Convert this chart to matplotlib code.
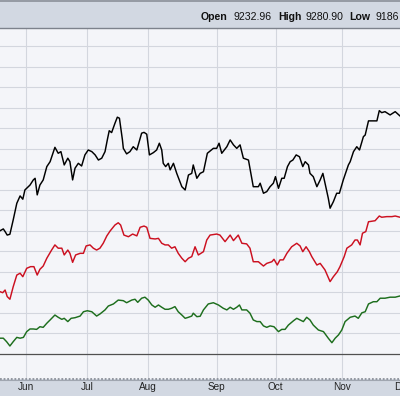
import matplotlib
matplotlib.use("Agg")
from matplotlib import pyplot as plt
from matplotlib import transforms

# trading-day index and performance values
black_day = [0, 1.1, 1.7, 2.4, 3.3, 4.4, 5.6, 6.7, 7.6, 8.3, 10, 11.1, 11.7, 12.4, 13.3, 14.4, 15.6, 16.7,
             18.3, 19.4, 20.3, 21.4, 22.6, 23.3, 24.2, 25, 26.1, 27.2, 28.3, 29.4, 30.6, 31.7, 32.8, 33.9,
             35, 35.8, 36.4, 37.2, 38.3, 39.1, 39.8, 40.2, 40.8, 41.1, 42.2, 43.3, 44.4, 45.6, 46.4, 47.2,
             48, 48.9, 49.8, 51.1, 52.2, 53.1, 53.9, 54.4, 55.2, 56.1, 56.7, 57.8, 58.9, 60.6, 61.7, 62.8,
             63.9, 64.4, 65.6, 66.7, 67.8, 69.1, 71.1, 72.2, 73, 73.9, 75.6, 76.7, 77.8, 78.9, 80, 81.1,
             82.8, 84.4, 86.1, 86.7, 87.8, 88.9, 90, 91.1, 91.8, 92.8, 93.9, 94.7, 95.8, 96.7, 97.6, 98.7,
             99.8, 100.9, 101.7, 102.8, 103.3, 104.4, 105.6, 106.7, 107.6, 108.3, 109.4, 110, 111.1, 112.2,
             113.1, 114.4, 116.1, 116.7, 117.8, 118.9, 119.8, 121.1, 121.7, 122.8, 125.6, 126.4, 127.2,
             128.3, 130, 131.7, 133.3]
black_val = [60.1, 61.0, 59.7, 58.0, 58.4, 65.4, 73.5, 77.1, 75.5, 80.0, 82.4, 84.9, 85.7, 77.6, 82.4, 84.9,
             91.4, 93.8, 100.8, 97.9, 98.7, 92.2, 95.5, 93.8, 84.9, 90.6, 93.0, 91.7, 97.1, 99.5, 98.7, 97.1,
             94.6, 95.5, 98.7, 104.7, 108.9, 108.0, 112.5, 115.5, 115.0, 110.9, 104.4, 100.3, 97.6, 98.7,
             101.1, 99.5, 103.6, 107.7, 108.1, 107.2, 97.1, 98.2, 99.5, 102.8, 99.5, 93.0, 91.4, 93.0, 89.8,
             93.0, 88.1, 81.6, 80.0, 87.3, 88.1, 92.2, 85.7, 88.1, 88.9, 97.9, 100.3, 100.3, 102.8, 97.9,
             101.1, 104.4, 102.0, 100.3, 102.0, 95.5, 94.6, 81.6, 81.6, 83.3, 78.4, 79.2, 81.6, 83.3, 86.5,
             80.8, 85.7, 85.7, 91.4, 93.8, 94.6, 97.1, 96.2, 91.4, 93.8, 92.2, 88.1, 86.5, 81.6, 84.9, 88.1,
             83.3, 76.0, 71.1, 74.3, 78.4, 78.4, 84.9, 92.2, 93.8, 98.7, 101.1, 99.5, 106.0, 106.8, 113.7,
             113.7, 118.7, 117.7, 118.2, 116.6, 118.2, 116.1]

red_day = [0, 0.9, 1.7, 2.4, 3.3, 4.4, 5.6, 6.7, 7.6, 8.9, 10.2, 11.3, 12.4, 13.3, 14.4, 15.6, 17.2, 18.3,
           19.4, 20.6, 21.4, 22.6, 23.3, 24.2, 25.2, 26.7, 27.8, 28.7, 30, 31.1, 32.2, 33.3, 34.4, 35.6,
           36.7, 38.3, 39.4, 40.2, 41.3, 42.8, 44.2, 45.6, 46.7, 48, 48.9, 50, 51.7, 52.8, 53.9, 55, 56.1,
           57.2, 58.3, 59.4, 60.6, 61.7, 62.8, 63.9, 65, 66.1, 67.8, 68.9, 70, 72.2, 73.3, 75, 76.7, 77.8,
           79.4, 80.6, 82.2, 83.3, 84.4, 86.1, 87.8, 88.9, 90.6, 91.3, 92.4, 93.3, 94.4, 95.6, 97.2, 98.9,
           100, 100.9, 102, 103.1, 103.9, 105.6, 106.7, 108.3, 110, 111.1, 112.4, 113.3, 114.7, 115.6,
           117.2, 118.3, 119.1, 120, 120.8, 121.9, 122.8, 125, 126.4, 127.2, 128.9, 130.6, 131.7, 133.3]
red_val = [30.4, 29.9, 31.2, 28.0, 26.7, 32.8, 38.5, 39.4, 37.7, 41.8, 42.6, 42.6, 38.5, 41.3, 42.9, 46.7,
           50.7, 53.2, 51.6, 51.6, 48.3, 50.7, 49.1, 44.7, 48.3, 49.1, 49.1, 52.7, 53.2, 51.6, 50.7, 51.6,
           54.0, 57.6, 60.0, 62.9, 64.0, 62.9, 58.0, 57.2, 58.5, 57.6, 61.8, 62.4, 61.8, 56.4, 56.1, 56.4,
           54.0, 53.2, 53.2, 51.6, 52.3, 49.1, 46.7, 45.0, 46.7, 47.5, 52.3, 48.3, 49.9, 55.6, 58.0, 58.5,
           58.0, 54.8, 58.0, 55.3, 58.0, 54.0, 53.7, 51.6, 45.0, 45.0, 42.9, 44.2, 45.0, 46.2, 43.4, 45.9,
           45.9, 49.1, 52.3, 54.0, 52.7, 49.9, 52.3, 49.9, 47.5, 43.4, 44.2, 41.0, 35.3, 37.7, 40.1, 42.6,
           47.5, 51.6, 53.2, 55.6, 55.6, 53.2, 58.9, 59.7, 64.5, 65.0, 67.3, 66.7, 67.0, 67.0, 67.3, 66.7]

green_day = [0, 1.1, 2.2, 3.3, 4.4, 5.6, 6.7, 7.8, 8.9, 10, 11.1, 12.2, 13.3, 14.4, 15.6, 16.7, 18.3, 19.4,
             20.6, 21.4, 22.6, 23.7, 25, 26.7, 27.8, 29.1, 30.6, 32.2, 33.3, 35, 36.1, 37.8, 39.4, 41.1,
             42.2, 43.9, 45, 45.9, 47.2, 48.3, 49.4, 50.6, 51.7, 52.8, 53.9, 55, 56.1, 57.2, 58.3, 59.4,
             60.6, 61.7, 62.8, 63.9, 64.4, 65.6, 66.7, 67.8, 69.4, 71.1, 72.8, 74.4, 75.6, 76.7, 77.8, 78.9,
             79.8, 80.6, 82.2, 83.3, 84.4, 85.6, 86.7, 87.8, 88.9, 90, 91.3, 92.8, 93.9, 95, 96.1, 97.8,
             98.9, 100, 101.1, 102.2, 103.3, 104.4, 106.1, 107.8, 109.4, 110.6, 111.7, 112.8, 113.9, 115,
             116.7, 118.3, 119.4, 120.6, 121.7, 122.8, 124.4, 125.6, 126.7, 128.3, 130, 131.7, 133.3]
green_val = [7.7, 7.7, 6.0, 3.9, 6.0, 8.1, 7.7, 8.1, 10.9, 12.2, 12.2, 12.0, 13.3, 13.0, 15.0, 16.6, 19.0,
             17.9, 16.9, 17.4, 15.8, 17.4, 17.7, 18.5, 20.6, 21.1, 20.6, 18.5, 19.5, 21.5, 23.4, 24.4, 26.3,
             26.0, 25.0, 26.3, 26.7, 25.2, 27.2, 27.7, 26.3, 23.9, 22.8, 23.9, 22.8, 21.8, 21.8, 22.3, 23.1,
             20.6, 19.0, 17.4, 17.9, 18.5, 19.9, 18.2, 18.4, 21.5, 24.4, 25.0, 23.9, 22.3, 21.5, 22.8, 21.8,
             22.8, 23.9, 21.5, 21.5, 19.9, 16.6, 15.8, 15.8, 13.7, 13.0, 13.7, 13.3, 10.9, 12.0, 12.0, 14.1,
             16.2, 17.4, 16.6, 15.8, 17.9, 16.6, 14.1, 11.7, 10.9, 7.7, 5.5, 7.7, 9.3, 11.7, 15.8, 17.9,
             18.5, 17.4, 20.1, 20.6, 24.4, 25.5, 25.5, 27.2, 27.2, 27.7, 27.7, 28.3]

month_labels = ["Jun", "Jul", "Aug", "Sep", "Oct", "Nov", "Dec"]
month_days = [8.6, 29.1, 49.2, 72.2, 91.9, 113.9, 134.2]

header = [("Open", True), ("9232.96", False), ("High", True), ("9280.90", False),
          ("Low", True), ("9186", False)]
header_x = [201, 233, 278, 305, 349, 375]

W, H = 400, 396
plt.rcParams["font.family"] = ["Liberation Sans", "DejaVu Sans"]

fig = plt.figure(figsize=(W / 100, H / 100), dpi=100)
fig.patch.set_facecolor("#d2d8e2")

ax = fig.add_axes([0, (H - 379) / H, 1, 351 / H])
ax.set_facecolor("#f4f5f9")
ax.set_xlim(0, 133.3)
ax.set_ylim(-12.2, 159.0)

for d in month_days:
    ax.axvline(d, color="#d3d6de", lw=0.8, zorder=1)
for v in range(10, 160, 10):
    ax.axhline(v, color="#d3d6de", lw=0.8, zorder=1)
ax.axhline(0, color="#505050", lw=0.9, zorder=1)

ax.plot(black_day, black_val, color="#000000", lw=1.05, zorder=3)
ax.plot(red_day, red_val, color="#cc1020", lw=1.05, zorder=3)
ax.plot(green_day, green_val, color="#1d6e1d", lw=1.05, zorder=3)

ax.set_xticks([])
ax.set_yticks([])
for s in ax.spines.values():
    s.set_visible(False)

# header band lines
fig.add_artist(plt.Line2D([0, 1], [1 - 0.5 / H, 1 - 0.5 / H], color="#8a8f98", lw=1.2))
fig.add_artist(plt.Line2D([0, 1], [1 - 28 / H, 1 - 28 / H], color="#7d828c", lw=1.0))

for (txt, bold), x in zip(header, header_x):
    fig.text(x / W, 1 - 17 / H, txt, fontsize=7.6, va="center", ha="left",
             fontweight="bold" if bold else "normal", color="#111111")

# bottom band
fig.add_artist(plt.Line2D([0, 1], [17 / H, 17 / H], color="#8c919a", lw=1.3,
                          linestyle=(0, (1, 1))))
fig.add_artist(plt.Line2D([0, 1], [16 / H, 16 / H], color="#a0a6b0", lw=0.8))
trans = transforms.blended_transform_factory(ax.transData, fig.transFigure)
for lab, d in zip(month_labels, month_days):
    fig.text(d, 8.5 / H, lab, transform=trans, fontsize=7.2, ha="center", va="center",
             color="#222222")

fig.savefig("out.png", dpi=100, facecolor=fig.get_facecolor())
